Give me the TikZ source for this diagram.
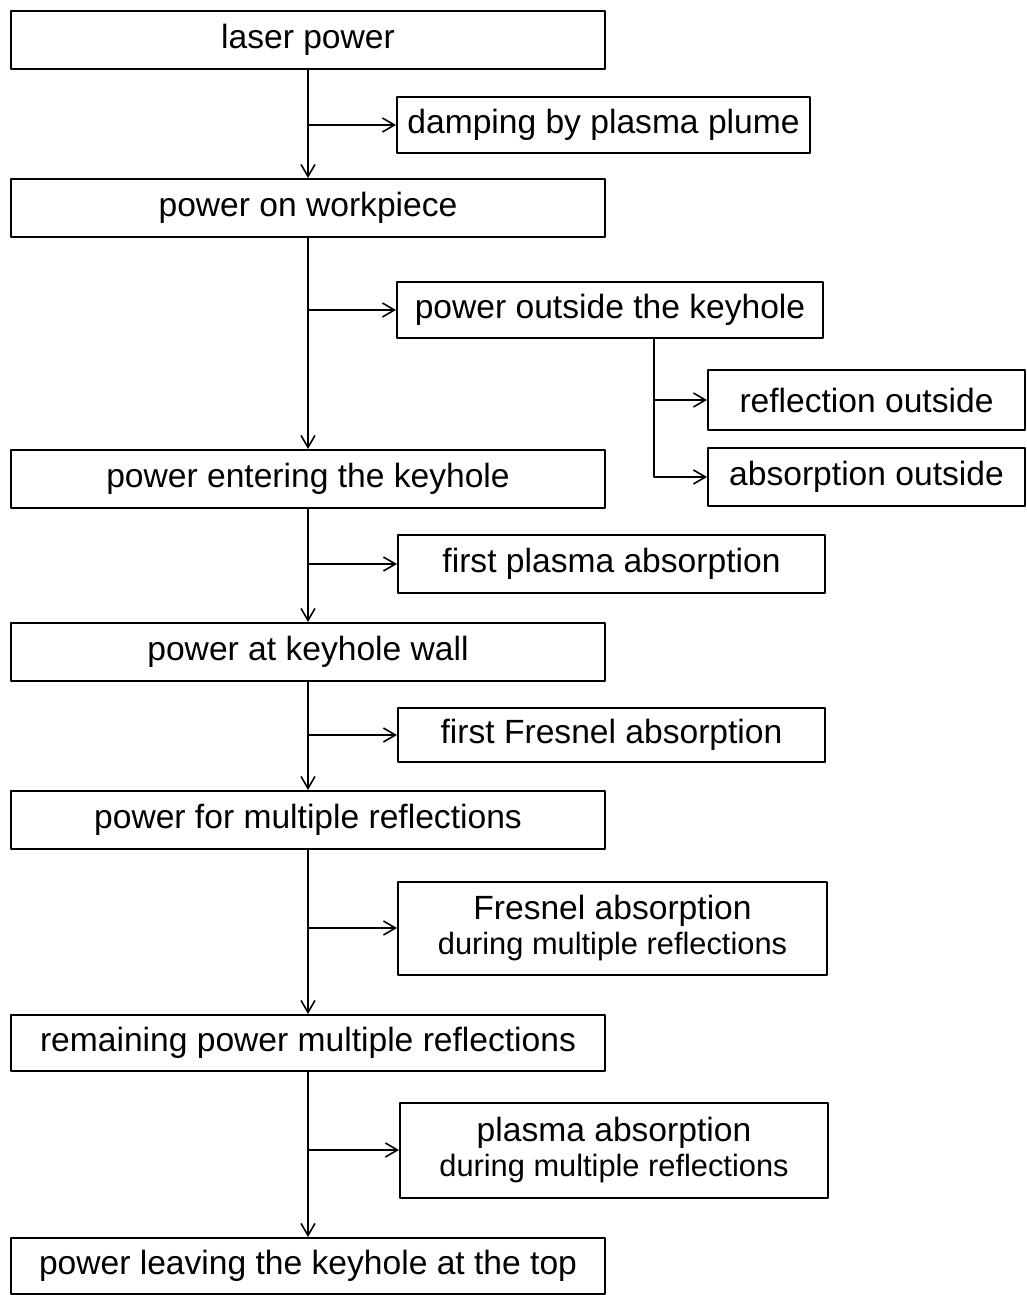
\documentclass[tikz,border=0pt]{standalone}
\usepackage{fontspec}
\setmainfont{Liberation Sans}
\usetikzlibrary{arrows.meta}

\begin{document}
\begin{tikzpicture}[x=0.5pt, y=-0.5pt, line cap=round, line join=round,
    font=\fontsize{16.8}{17.5}\selectfont,
    mainbox/.style={draw, line width=1pt, minimum width=297pt, minimum height=29pt, inner sep=0pt},
    sidebox/.style={draw, line width=1pt, minimum height=28pt, inner sep=0pt, align=center},
    flow/.style={line width=0.8pt, -{Straight Barb[length=6pt,width=7pt]}}]
  \newcommand{\smallline}[1]{{\fontsize{15.4}{17.5}\selectfont #1}}

  \useasboundingbox (0,0) rectangle (1027,1295);

  \node[mainbox] (laser) at (308,40) {laser power};
  \node[mainbox] (work) at (308,208) {power on workpiece};
  \node[mainbox] (enter) at (308,479) {power entering the keyhole};
  \node[mainbox] (wall) at (308,652) {power at keyhole wall};
  \node[mainbox] (multi) at (308,820) {power for multiple reflections};
  \node[mainbox, minimum height=28pt] (remain) at (308,1043) {remaining power multiple reflections};
  \node[mainbox, minimum height=28pt] (leave) at (308,1266) {power leaving the keyhole at the top};

  \node[sidebox, minimum width=206.5pt] (damp) at (603.5,125) {damping by plasma plume};
  \node[sidebox, minimum width=213pt] (outside) at (610,310) {power outside the keyhole};
  \node[sidebox, minimum width=158.5pt, minimum height=30pt] (reflout) at (866.5,400) {reflection outside};
  \node[sidebox, minimum width=158.5pt, minimum height=29pt] (absout) at (866.5,477) {absorption outside};
  \node[sidebox, minimum width=213.5pt, minimum height=29pt] (plasmaone) at (611.5,564) {first plasma absorption};
  \node[sidebox, minimum width=213.5pt, minimum height=27pt] (fresnelone) at (611.5,735) {first Fresnel absorption};
  \node[sidebox, minimum width=214.5pt, minimum height=46.5pt] (fresnelmult) at (612.5,928)
    {Fresnel absorption\\\smallline{during multiple reflections}};
  \node[sidebox, minimum width=214pt, minimum height=47.5pt] (plasmamult) at (614,1150)
    {plasma absorption\\\smallline{during multiple reflections}};

  \draw[flow] (laser.south) -- (work.north);
  \draw[flow] (work.south) -- (enter.north);
  \draw[flow] (enter.south) -- (wall.north);
  \draw[flow] (wall.south) -- (multi.north);
  \draw[flow] (multi.south) -- (remain.north);
  \draw[flow] (remain.south) -- (leave.north);

  \draw[flow] (laser.south |- damp.west) -- (damp.west);
  \draw[flow] (work.south |- outside.west) -- (outside.west);
  \draw[flow] (enter.south |- plasmaone.west) -- (plasmaone.west);
  \draw[flow] (wall.south |- fresnelone.west) -- (fresnelone.west);
  \draw[flow] (multi.south |- fresnelmult.west) -- (fresnelmult.west);
  \draw[flow] (remain.south |- plasmamult.west) -- (plasmamult.west);

  \coordinate (split) at ([xshift=129pt]outside.south west);
  \draw[flow] (split) |- (absout.west);
  \draw[flow] (split |- reflout.west) -- (reflout.west);
\end{tikzpicture}
\end{document}
